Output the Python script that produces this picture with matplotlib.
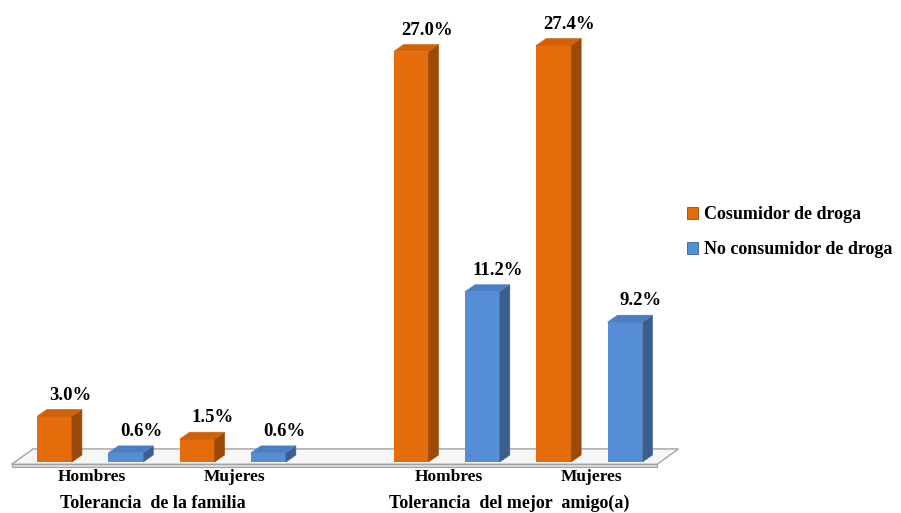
import matplotlib
matplotlib.use("Agg")
import matplotlib.pyplot as plt
from matplotlib.patches import Polygon, Patch

# Data
groups = ["Tolerancia  de la familia", "Tolerancia  del mejor  amigo(a)"]
sexes = ["Hombres", "Mujeres"]
series = ["Cosumidor de droga", "No consumidor de droga"]
consumidor = [3.0, 1.5, 27.0, 27.4]
no_consumidor = [0.6, 0.6, 11.2, 9.2]

# Colours: front, side, top
orange = ("#e46c0a", "#9a4a08", "#cf6209")
blue = ("#558ed5", "#3a5f8f", "#4a7fc4")

plt.rcParams["font.family"] = ["Liberation Serif", "DejaVu Serif"]
plt.rcParams["font.weight"] = "bold"

fig = plt.figure(figsize=(9.01, 5.13), dpi=100)
ax = fig.add_axes([0, 0, 1, 1])
ax.set_xlim(-0.764, 11.87)
ax.set_ylim(-3.355, 30.39)
ax.axis("off")

width = 0.49
dx, dy = 0.14, 0.46   # 3D depth offset of each bar

# Slot positions: two bars per sex, a blank slot between groups
pos_c, pos_n = [], []
for g in range(len(groups)):
    for s in range(len(sexes)):
        base = g * 5 + s * 2
        pos_c.append(base)
        pos_n.append(base + 1)

# Floor slab
left, right = pos_c[0] - 0.6, pos_n[-1] + 0.45
f_front, f_back, f_shift = -0.15, 0.86, 0.3
ax.add_patch(Polygon([(left, f_front), (right, f_front), (right + f_shift, f_back),
                      (left + f_shift, f_back)], closed=True,
                     facecolor="#f6f6f6", edgecolor="#a3a3a3", lw=1.0, zorder=1))
ax.add_patch(Polygon([(left, f_front), (right, f_front), (right, f_front - 0.18),
                      (left, f_front - 0.18)], closed=True,
                     facecolor="#d9d9d9", edgecolor="#a3a3a3", lw=0.8, zorder=1))


def bar3d(x, h, cols):
    x0, x1 = x - width / 2, x + width / 2
    ax.bar(x, h, width=width, bottom=0, color=cols[0], lw=0, zorder=3)
    ax.add_patch(Polygon([(x1, 0), (x1 + dx, dy), (x1 + dx, h + dy), (x1, h)],
                         closed=True, facecolor=cols[1], edgecolor=cols[1], lw=0.4, zorder=3))
    ax.add_patch(Polygon([(x0, h), (x1, h), (x1 + dx, h + dy), (x0 + dx, h + dy)],
                         closed=True, facecolor=cols[2], edgecolor=cols[2], lw=0.4, zorder=3))
    ax.text(x + 0.22, h + 1.1, f"{h:.1f}%", ha="center", va="baseline",
            fontsize=13.5, fontweight="bold", color="black", zorder=4)


for x, h in zip(pos_c, consumidor):
    bar3d(x, h, orange)
for x, h in zip(pos_n, no_consumidor):
    bar3d(x, h, blue)

# Category and group labels
for i, (xc, xn) in enumerate(zip(pos_c, pos_n)):
    ax.text((xc + xn) / 2 + 0.03, -1.0, sexes[i % 2], ha="center", va="center",
            fontsize=12.5, fontweight="bold")
for g, name in enumerate(groups):
    mid = (pos_c[g * 2] + pos_n[g * 2 + 1]) / 2 - 0.12
    ax.text(mid, -2.7, name, ha="center", va="center", fontsize=13, fontweight="bold")

handles = [Patch(facecolor=orange[0], edgecolor=orange[1], lw=0.6),
           Patch(facecolor=blue[0], edgecolor=blue[1], lw=0.6)]
ax.legend(handles, series, loc="upper left", bbox_to_anchor=(671 / 901, 1 - 190 / 513),
          frameon=False, handlelength=0.6, handleheight=0.6, handletextpad=0.3,
          labelspacing=1.0, prop={"family": "Liberation Serif", "weight": "bold", "size": 13})

fig.savefig("out.png", dpi=100)
